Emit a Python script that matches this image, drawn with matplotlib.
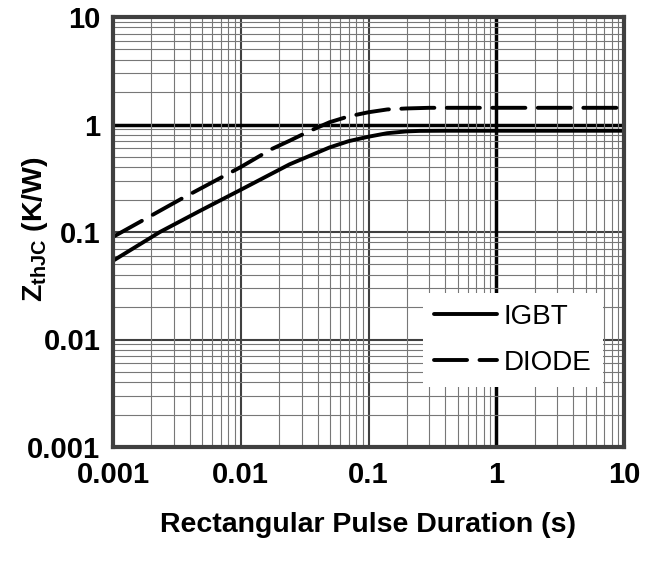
import matplotlib
matplotlib.use("Agg")
import matplotlib.pyplot as plt
import numpy as np
from matplotlib.ticker import LogLocator, NullFormatter

plt.rcParams['font.family'] = ['Liberation Sans', 'DejaVu Sans']
plt.rcParams['mathtext.fontset'] = 'custom'
plt.rcParams['mathtext.rm'] = 'Liberation Sans:bold'
plt.rcParams['mathtext.it'] = 'Liberation Sans:bold'
plt.rcParams['mathtext.bf'] = 'Liberation Sans:bold'

# Data
igbt_t = [0.001, 0.00233, 0.00478, 0.01, 0.0241, 0.0496, 0.07, 0.1, 0.14, 0.197, 0.25, 0.4, 1.0, 10.0]
igbt_z = [0.054, 0.100, 0.157, 0.247, 0.426, 0.612, 0.70, 0.77, 0.83, 0.862, 0.872, 0.875, 0.875, 0.875]

diode_t = [0.001, 0.00344, 0.01, 0.0174, 0.0241, 0.0346, 0.0496, 0.07, 0.1, 0.14, 0.197, 0.3, 1.0, 10.0]
diode_z = [0.090, 0.204, 0.402, 0.59, 0.706, 0.87, 1.05, 1.19, 1.30, 1.38, 1.41, 1.43, 1.43, 1.43]

xticks = [0.001, 0.01, 0.1, 1, 10]
xticklabels = ['0.001', '0.01', '0.1', '1', '10']
yticks = [0.001, 0.01, 0.1, 1, 10]
yticklabels = ['0.001', '0.01', '0.1', '1', '10']

W, H = 656, 562
fig = plt.figure(figsize=(W / 100, H / 100), dpi=100)
L, R, T, B = 113, 624, 17, 447
ax = fig.add_axes([L / W, 1 - B / H, (R - L) / W, (B - T) / H])
ax.set_xscale('log')
ax.set_yscale('log')
ax.set_xlim(0.001, 10)
ax.set_ylim(0.001, 10)

# grid
ax.xaxis.set_minor_locator(LogLocator(base=10, subs=np.arange(2, 10), numticks=20))
ax.yaxis.set_minor_locator(LogLocator(base=10, subs=np.arange(2, 10), numticks=20))
ax.xaxis.set_minor_formatter(NullFormatter())
ax.yaxis.set_minor_formatter(NullFormatter())
ax.grid(which='minor', color='#777777', lw=0.8, zorder=0)
for v in [0.01, 0.1]:
    ax.axvline(v, color='#404040', lw=1.5, zorder=1)
    ax.axhline(v, color='#404040', lw=1.5, zorder=1)
ax.axvline(1, color='black', lw=2.5, zorder=1)
ax.axhline(1, color='black', lw=2.5, zorder=1)

ax.plot(igbt_t, igbt_z, color='black', lw=2.8, solid_capstyle='round',
        solid_joinstyle='round', label='IGBT', zorder=3)
ax.plot(diode_t, diode_z, color='black', lw=2.8, dashes=(8.5, 3.2), dash_capstyle='round',
        dash_joinstyle='round', label='DIODE', zorder=3)

ax.set_xticks(xticks)
ax.set_xticklabels(xticklabels)
ax.set_yticks(yticks)
ax.set_yticklabels(yticklabels)
ax.tick_params(which='both', length=0)
ax.tick_params(axis='x', pad=10, labelsize=21)
ax.tick_params(axis='y', pad=9, labelsize=21)
for lab in ax.get_xticklabels() + ax.get_yticklabels():
    lab.set_fontweight('bold')

for s in ax.spines.values():
    s.set_color('#404040')
    s.set_linewidth(3)
    s.set_zorder(5)

ax.set_xlabel('Rectangular Pulse Duration (s)', fontsize=20.5, fontweight='bold', labelpad=17)
ax.set_ylabel(r'$\mathrm{Z_{thJC}}$ (K/W)', fontsize=20.5, fontweight='bold')
ax.yaxis.set_label_coords((50 - L) / (R - L), (B - 229) / (B - T))

leg = ax.legend(loc='upper left', bbox_to_anchor=(0.607, 0.358), frameon=True,
                fontsize=20, handlelength=2.25, handletextpad=0.25, labelspacing=0.72,
                borderpad=0.4, borderaxespad=0, fancybox=False)
leg.get_frame().set_facecolor('white')
leg.get_frame().set_edgecolor('none')
leg.get_frame().set_alpha(1)
leg.set_zorder(4)

fig.savefig('out.png', dpi=100)
